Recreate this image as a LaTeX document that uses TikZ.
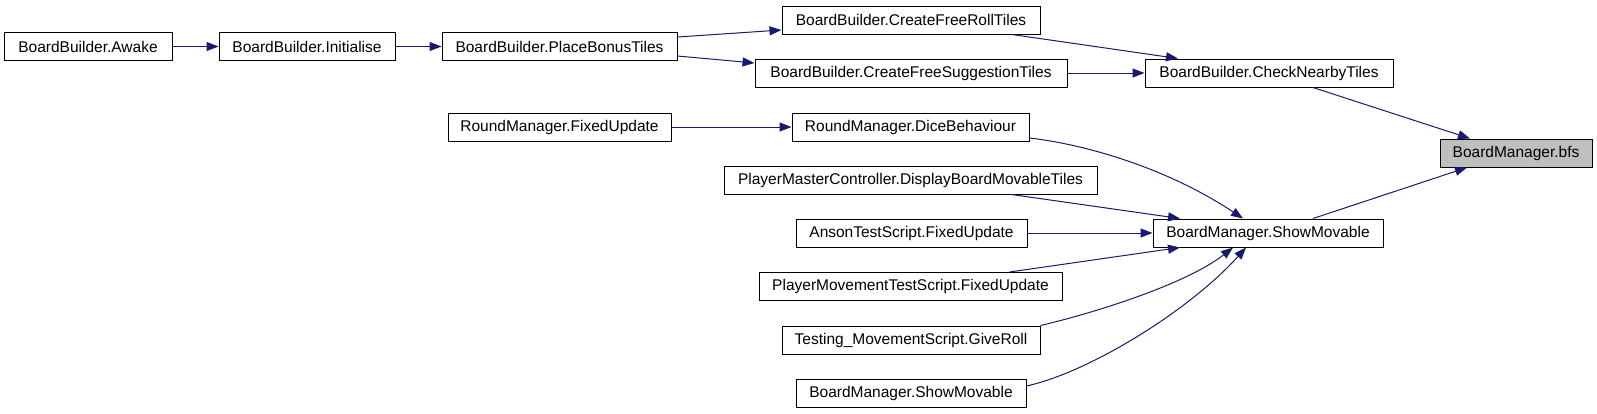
\documentclass[tikz,border=0pt]{standalone}
\usepackage{fontspec}
\setmainfont{Liberation Sans}
\usetikzlibrary{arrows.meta,calc}
\definecolor{edgeblue}{RGB}{25,25,112}
\definecolor{hlgray}{RGB}{191,191,191}
\begin{document}
\begin{tikzpicture}[x=1pt,y=-1pt,
  fn/.style={draw=black,line width=1pt,fill=white,rectangle,inner sep=0pt,minimum height=28pt,font=\fontsize{15.5}{18}\selectfont},
  cl/.style={draw=edgeblue,line width=1pt,-{Triangle[length=12pt,width=9pt]}}]
\path[fill=white] (0,0) rectangle (1597,413);
\node[fn,minimum width=168pt] (awake) at (88,46.5) {BoardBuilder.Awake};
\node[fn,minimum width=176pt] (init) at (307,46.5) {BoardBuilder.Initialise};
\node[fn,minimum width=235pt] (place) at (559.5,46.5) {BoardBuilder.PlaceBonusTiles};
\node[fn,minimum width=258pt] (roll) at (911,20) {BoardBuilder.CreateFreeRollTiles};
\node[fn,minimum width=312pt] (sugg) at (911,73) {BoardBuilder.CreateFreeSuggestionTiles};
\node[fn,minimum width=248pt] (check) at (1269,73) {BoardBuilder.CheckNearbyTiles};
\node[fn,minimum width=152pt,fill=hlgray] (bfs) at (1516,153) {BoardManager.bfs};
\node[fn,minimum width=223pt] (rmfix) at (559.5,127) {RoundManager.FixedUpdate};
\node[fn,minimum width=237pt] (dice) at (910.5,127) {RoundManager.DiceBehaviour};
\node[fn,minimum width=373pt] (pmc) at (910.5,180) {PlayerMasterController.DisplayBoardMovableTiles};
\node[fn,minimum width=231pt] (anson) at (911.5,233) {AnsonTestScript.FixedUpdate};
\node[fn,minimum width=230pt] (show) at (1268,233) {BoardManager.ShowMovable};
\node[fn,minimum width=303pt] (pmts) at (910.5,286.5) {PlayerMovementTestScript.FixedUpdate};
\node[fn,minimum width=258pt] (testing) at (911,340) {Testing\_MovementScript.GiveRoll};
\node[fn,minimum width=230pt] (show2) at (911,393) {BoardManager.ShowMovable};
\draw[cl] (awake) -- (init);
\draw[cl] (init) -- (place);
\draw[cl] ($(place.east)+(0,-9.5)$) -- ($(roll.west)+(0,10)$);
\draw[cl] ($(place.east)+(0,9.5)$) -- ($(sugg.west)+(0,-10)$);
\draw[cl] ($(roll.south)+(101,0)$) -- ($(check.north)+(-91,0)$);
\draw[cl] (sugg) -- (check);
\draw[cl] ($(check.south)+(44,0)$) -- ($(bfs.north)+(-46,0)$);
\draw[cl] ($(show.north)+(45,0)$) -- ($(bfs.south)+(-49,0)$);
\draw[cl] (rmfix) -- (dice);
\draw[cl] ($(dice.east)+(0,11)$) .. controls (1090,145) and (1170,170) .. ($(show.north)+(-25,0)$);
\draw[cl] ($(pmc.south)+(101,0)$) -- ($(show.north)+(-88,0)$);
\draw[cl] (anson) -- (show);
\draw[cl] ($(pmts.north)+(99,0)$) -- ($(show.south)+(-88,0)$);
\draw[cl] (testing.north east) .. controls (1090,314) and (1185,285) .. ($(show.south)+(-35,0)$);
\draw[cl] ($(show2.east)+(0,-7)$) .. controls (1090,372) and (1190,310) .. ($(show.south)+(-22,0)$);
\end{tikzpicture}
\end{document}
